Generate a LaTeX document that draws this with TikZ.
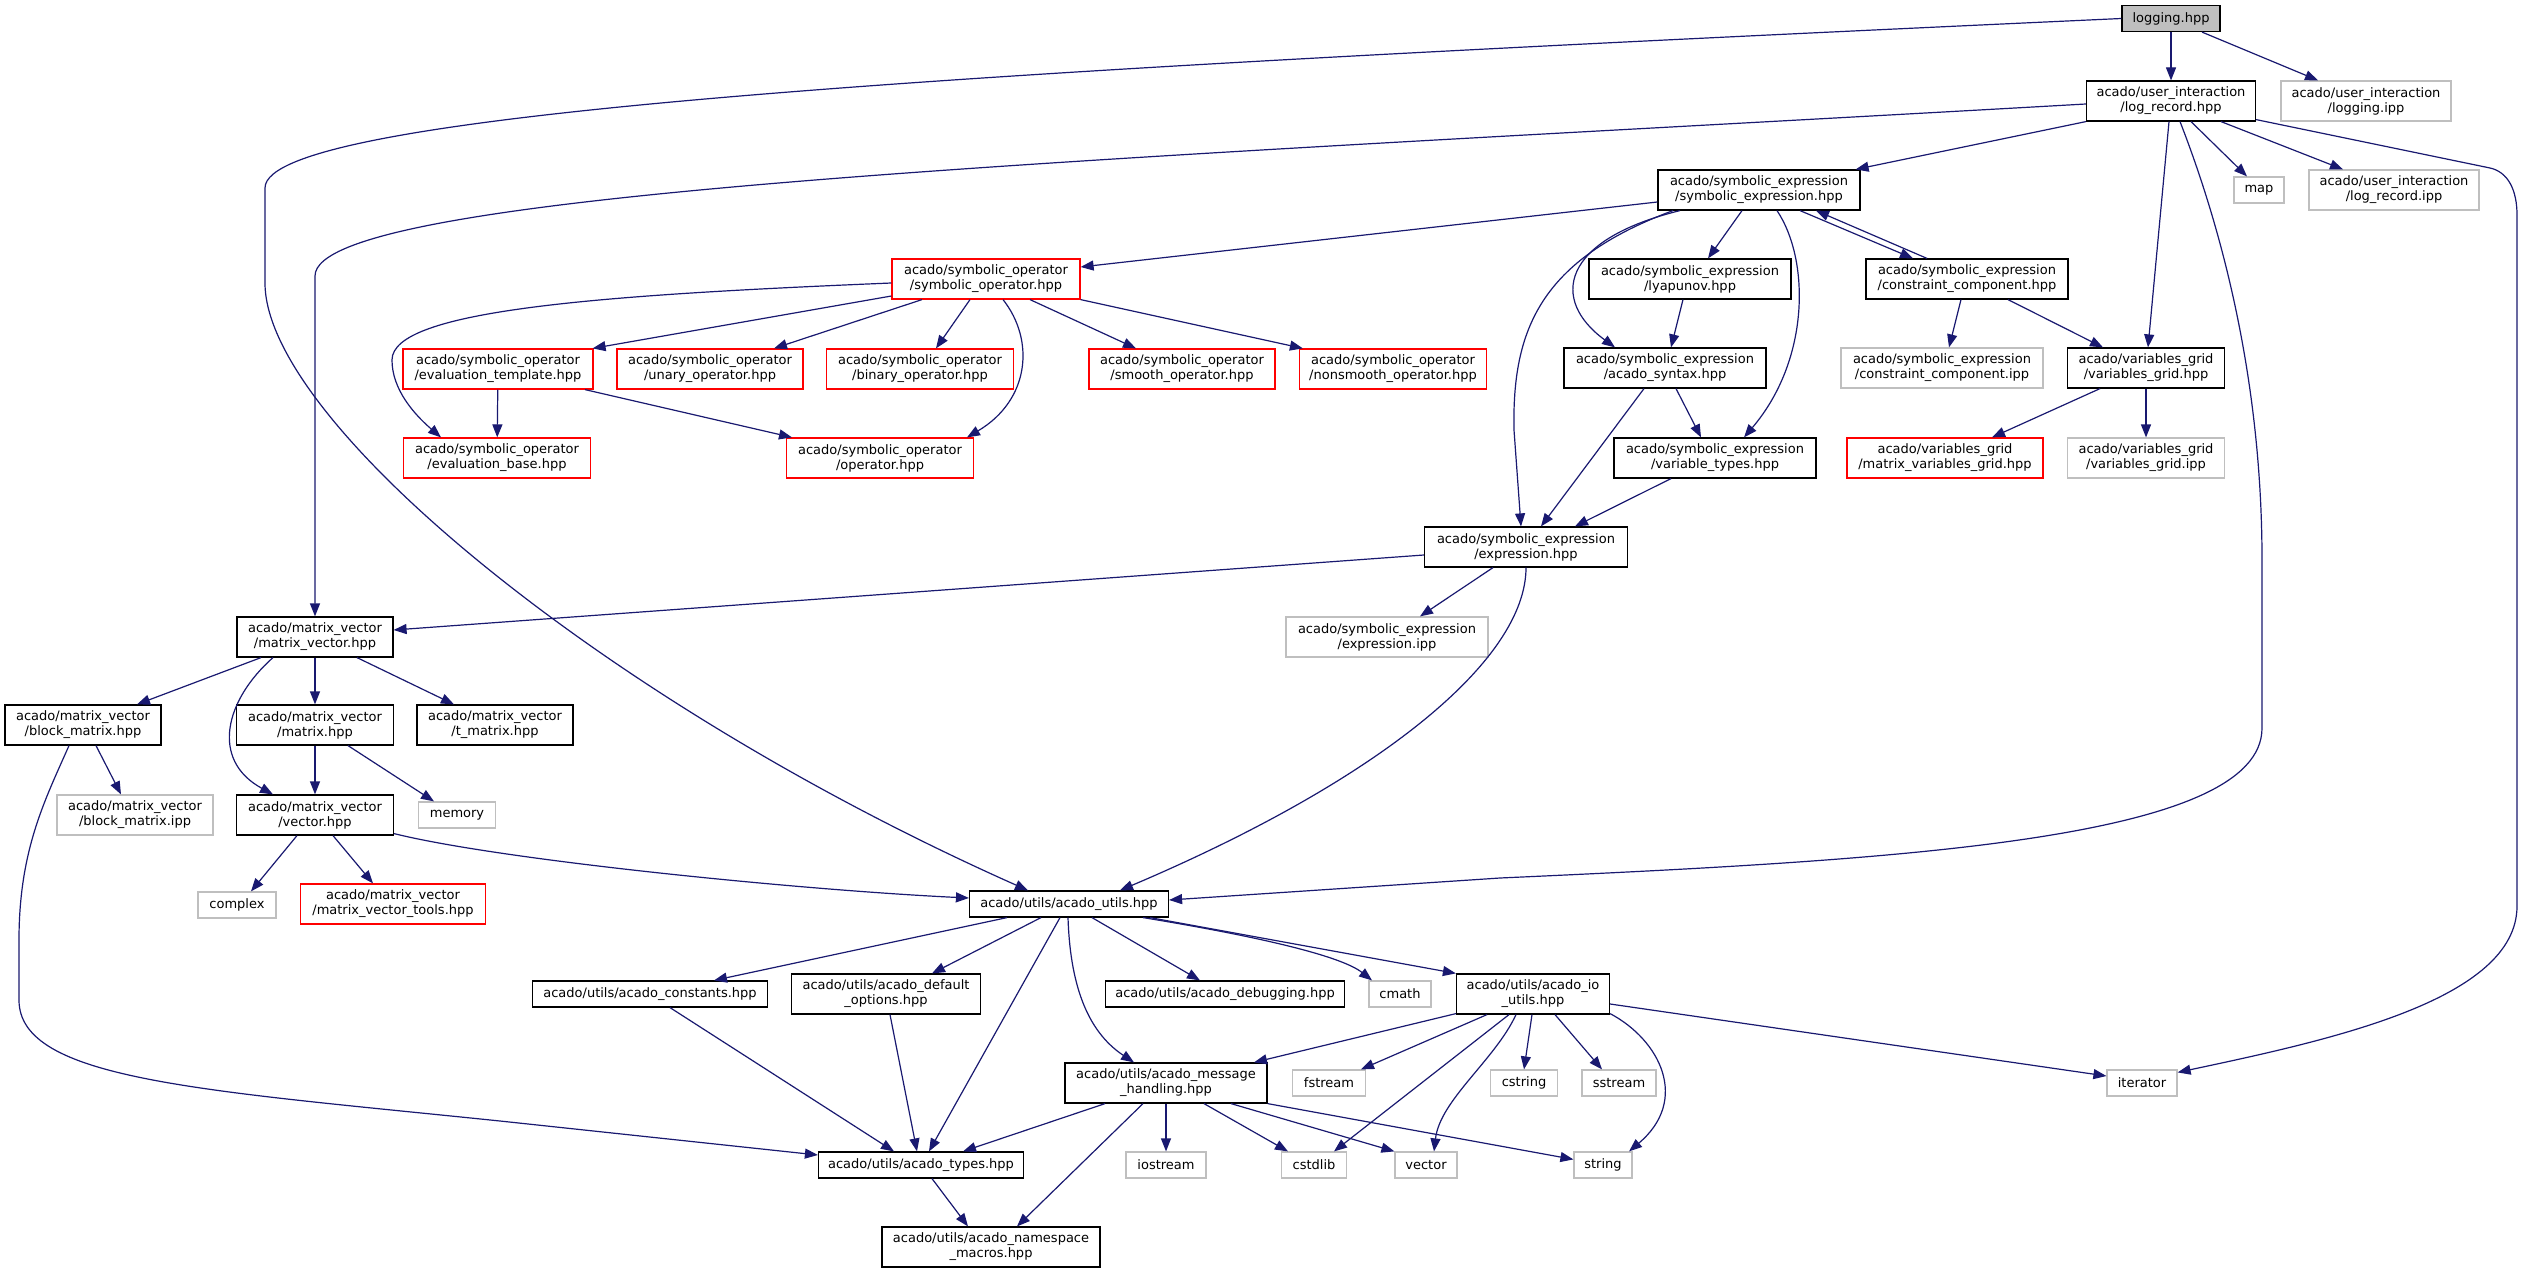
\documentclass[tikz,border=0pt]{standalone}
\usepackage{fontspec}
\setmainfont{DejaVu Sans}
\usepackage{xcolor}
\usepackage{tikz}
\usetikzlibrary{arrows.meta}
\definecolor{edgeblue}{RGB}{25,25,112}
\definecolor{nodegrey}{RGB}{191,191,191}
\tikzset{
  filebox/.style={draw, line width=1.2pt, fill=white, inner sep=0pt, minimum height=40pt,
    align=center, font=\fontsize{13pt}{15pt}\selectfont},
  hfile/.style={filebox, draw=black},
  sysfile/.style={filebox, draw=nodegrey},
  redfile/.style={filebox, draw=red},
  curfile/.style={filebox, draw=black, fill=nodegrey},
  oneline/.style={minimum height=26pt},
  incl/.style={draw=edgeblue, line width=1.2pt, -{Triangle[length=13pt,width=10pt]}}
}

\begin{document}
\begin{tikzpicture}[x=1pt, y=-1pt]
    \path[fill=white, use as bounding box] (0,0) rectangle (2525,1273);
    % files
    \node[curfile, oneline, minimum width=98pt] (logging) at (2171,18.5) {logging.hpp};
    \node[hfile, minimum width=169pt] (logrecord) at (2171,101) {acado/user\_interaction\\/log\_record.hpp};
    \node[sysfile, minimum width=170pt] (loggingipp) at (2366,101) {acado/user\_interaction\\/logging.ipp};
    \node[hfile, minimum width=202pt] (symexpr) at (1759,190) {acado/symbolic\_expression\\/symbolic\_expression.hpp};
    \node[sysfile, oneline, minimum width=50pt] (map) at (2259,190) {map};
    \node[sysfile, minimum width=170pt] (logrecordipp) at (2394,190) {acado/user\_interaction\\/log\_record.ipp};
    \node[redfile, minimum width=188pt] (symop) at (986,279) {acado/symbolic\_operator\\/symbolic\_operator.hpp};
    \node[hfile, minimum width=202pt] (lyapunov) at (1690,279) {acado/symbolic\_expression\\/lyapunov.hpp};
    \node[hfile, minimum width=202pt] (constrcomp) at (1967,279) {acado/symbolic\_expression\\/constraint\_component.hpp};
    \node[redfile, minimum width=190pt] (evaltempl) at (498,369) {acado/symbolic\_operator\\/evaluation\_template.hpp};
    \node[redfile, minimum width=186pt] (unary) at (710,369) {acado/symbolic\_operator\\/unary\_operator.hpp};
    \node[redfile, minimum width=187pt] (binary) at (920,369) {acado/symbolic\_operator\\/binary\_operator.hpp};
    \node[redfile, minimum width=186pt] (smooth) at (1182,369) {acado/symbolic\_operator\\/smooth\_operator.hpp};
    \node[redfile, minimum width=187pt] (nonsmooth) at (1393,369) {acado/symbolic\_operator\\/nonsmooth\_operator.hpp};
    \node[hfile, minimum width=202pt] (syntax) at (1665,368) {acado/symbolic\_expression\\/acado\_syntax.hpp};
    \node[sysfile, minimum width=202pt] (constrcompipp) at (1942,368) {acado/symbolic\_expression\\/constraint\_component.ipp};
    \node[hfile, minimum width=157pt] (varsgrid) at (2146,368) {acado/variables\_grid\\/variables\_grid.hpp};
    \node[redfile, minimum width=187pt] (evalbase) at (497,458) {acado/symbolic\_operator\\/evaluation\_base.hpp};
    \node[redfile, minimum width=187pt] (operator) at (880,458) {acado/symbolic\_operator\\/operator.hpp};
    \node[hfile, minimum width=202pt] (vartypes) at (1715,458) {acado/symbolic\_expression\\/variable\_types.hpp};
    \node[redfile, minimum width=196pt] (matvarsgrid) at (1945,458) {acado/variables\_grid\\/matrix\_variables\_grid.hpp};
    \node[sysfile, minimum width=157pt] (varsgridipp) at (2146,458) {acado/variables\_grid\\/variables\_grid.ipp};
    \node[hfile, minimum width=203pt] (expression) at (1526,547) {acado/symbolic\_expression\\/expression.hpp};
    \node[hfile, minimum width=156pt] (matvec) at (315,637) {acado/matrix\_vector\\/matrix\_vector.hpp};
    \node[sysfile, minimum width=202pt] (expressionipp) at (1387,637) {acado/symbolic\_expression\\/expression.ipp};
    \node[hfile, minimum width=156pt] (blockmatrix) at (83,725) {acado/matrix\_vector\\/block\_matrix.hpp};
    \node[hfile, minimum width=157pt] (matrix) at (315,725) {acado/matrix\_vector\\/matrix.hpp};
    \node[hfile, minimum width=156pt] (tmatrix) at (495,725) {acado/matrix\_vector\\/t\_matrix.hpp};
    \node[sysfile, minimum width=156pt] (blockmatrixipp) at (135,815) {acado/matrix\_vector\\/block\_matrix.ipp};
    \node[hfile, minimum width=157pt] (vector) at (315,815) {acado/matrix\_vector\\/vector.hpp};
    \node[sysfile, oneline, minimum width=77pt] (memory) at (457,815) {memory};
    \node[sysfile, oneline, minimum width=78pt] (complex) at (237,905) {complex};
    \node[redfile, minimum width=185pt] (mvtools) at (393,904) {acado/matrix\_vector\\/matrix\_vector\_tools.hpp};
    \node[hfile, oneline, minimum width=199pt] (acadoutils) at (1069,904) {acado/utils/acado\_utils.hpp};
    \node[hfile, oneline, minimum width=235pt] (constants) at (650,994) {acado/utils/acado\_constants.hpp};
    \node[hfile, minimum width=189pt] (defaultopts) at (886,994) {acado/utils/acado\_default\\\_options.hpp};
    \node[hfile, oneline, minimum width=239pt] (debugging) at (1225,994) {acado/utils/acado\_debugging.hpp};
    \node[sysfile, oneline, minimum width=62pt] (cmath) at (1400,994) {cmath};
    \node[hfile, minimum width=153pt] (ioutils) at (1533,994) {acado/utils/acado\_io\\\_utils.hpp};
    \node[hfile, minimum width=202pt] (msghandling) at (1166,1083) {acado/utils/acado\_message\\\_handling.hpp};
    \node[sysfile, oneline, minimum width=73pt] (fstream) at (1329,1083) {fstream};
    \node[sysfile, oneline, minimum width=67pt] (cstring) at (1524,1083) {cstring};
    \node[sysfile, oneline, minimum width=74pt] (sstream) at (1619,1083) {sstream};
    \node[sysfile, oneline, minimum width=70pt] (iterator) at (2142,1083) {iterator};
    \node[hfile, oneline, minimum width=205pt] (types) at (921,1165) {acado/utils/acado\_types.hpp};
    \node[sysfile, oneline, minimum width=80pt] (iostream) at (1166,1165) {iostream};
    \node[sysfile, oneline, minimum width=65pt] (cstdlib) at (1314,1165) {cstdlib};
    \node[sysfile, oneline, minimum width=62pt] (stdvector) at (1426,1165) {vector};
    \node[sysfile, oneline, minimum width=58pt] (string) at (1603,1165) {string};
    \node[hfile, minimum width=218pt] (nsmacros) at (991,1247) {acado/utils/acado\_namespace\\\_macros.hpp};
    % logging.hpp
    \draw[incl] (logging) -- (logrecord);
    \draw[incl] ([xshift=31pt]logging.south) -- ([xshift=-48pt]loggingipp.north);
    \draw[incl] (logging.west) .. controls (1000,70) and (265,110) .. (265,188) -- (265,283) .. controls (265,420) and (600,700) .. ([xshift=-41pt]acadoutils.north);
    % log_record.hpp
    \draw[incl] ([yshift=-3pt]logrecord.west) .. controls (1100,160) and (315,190) .. (315,276) -- (matvec.north);
    \draw[incl] (logrecord.south west) -- ([xshift=-5pt]symexpr.north east);
    \draw[incl] ([xshift=-2pt]logrecord.south) -- ([xshift=2pt]varsgrid.north);
    \draw[incl] ([xshift=9pt]logrecord.south) .. controls (2230,250) and (2262,400) .. (2262,560) -- (2262,728) .. controls (2262,840) and (1900,860) .. (1500,878) -- ([yshift=4pt]acadoutils.east);
    \draw[incl] ([xshift=20pt]logrecord.south) -- ([xshift=-12pt]map.north);
    \draw[incl] ([xshift=50pt]logrecord.south) -- ([xshift=-51pt]logrecordipp.north);
    \draw[incl] ([yshift=2pt]logrecord.south east) -- (2490,168) .. controls (2508,172) and (2517,190) .. (2517,215) -- (2517,906) .. controls (2517,1000) and (2330,1040) .. ([yshift=-3pt]iterator.north east);
    % symbolic_expression.hpp
    \draw[incl] ([yshift=-12pt]symexpr.west) -- ([yshift=12pt]symop.east);
    \draw[incl] ([xshift=-17pt]symexpr.south) -- ([xshift=18pt]lyapunov.north);
    \draw[incl] ([xshift=41pt]symexpr.south) -- ([xshift=-54pt]constrcomp.north);
    \draw[incl] ([xshift=-40pt]constrcomp.north) -- ([xshift=57pt]symexpr.south);
    \draw[incl] ([xshift=-79pt]symexpr.south) .. controls (1560,240) and (1550,300) .. ([xshift=-50pt]syntax.north);
    \draw[incl] ([xshift=-86pt]symexpr.south) .. controls (1540,260) and (1512,330) .. (1514,430) -- ([xshift=-5pt]expression.north);
    \draw[incl] ([xshift=18pt]symexpr.south) .. controls (1810,260) and (1810,360) .. ([xshift=29pt]vartypes.north);
    \draw[incl] ([xshift=-7pt]lyapunov.south) -- ([xshift=6pt]syntax.north);
    \draw[incl] ([xshift=-6pt]constrcomp.south) -- ([xshift=7pt]constrcompipp.north);
    \draw[incl] ([xshift=41pt]constrcomp.south) -- ([xshift=-43pt]varsgrid.north);
    \draw[incl] ([xshift=11pt]syntax.south) -- ([xshift=-14pt]vartypes.north);
    \draw[incl] ([xshift=-21pt]syntax.south) -- ([xshift=15pt]expression.north);
    \draw[incl] ([xshift=-44pt]vartypes.south) -- ([xshift=49pt]expression.north);
    \draw[incl] ([xshift=-46pt]varsgrid.south) -- ([xshift=47pt]matvarsgrid.north);
    \draw[incl] (varsgrid) -- (varsgridipp);
    % symbolic_operator.hpp
    \draw[incl] ([yshift=-17pt]symop.west) -- ([xshift=-1pt]evaltempl.north east);
    \draw[incl] ([xshift=-64pt]symop.south) -- ([xshift=64pt]unary.north);
    \draw[incl] ([xshift=-16pt]symop.south) -- ([xshift=16pt]binary.north);
    \draw[incl] ([xshift=17pt]symop.south) .. controls (1035,340) and (1030,400) .. ([xshift=87pt]operator.north);
    \draw[incl] ([xshift=44pt]symop.south) -- ([xshift=-46pt]smooth.north);
    \draw[incl] (symop.south east) -- ([xshift=4pt]nonsmooth.north west);
    \draw[incl] ([yshift=-4pt]symop.west) .. controls (600,295) and (392,310) .. (392,360) .. controls (392,390) and (415,415) .. ([xshift=-56pt]evalbase.north);
    \draw[incl] (evaltempl) -- (evalbase);
    \draw[incl] ([xshift=87pt]evaltempl.south) -- ([xshift=-88pt]operator.north);
    % expression.hpp
    \draw[incl] ([yshift=-8pt]expression.west) -- ([yshift=7pt]matvec.east);
    \draw[incl] ([xshift=-33pt]expression.south) -- ([xshift=33pt]expressionipp.north);
    \draw[incl] (expression.south) .. controls (1526,660) and (1380,780) .. ([xshift=51pt]acadoutils.north);
    % matrix_vector
    \draw[incl] ([xshift=-54pt]matvec.south) -- ([xshift=54pt]blockmatrix.north);
    \draw[incl] ([xshift=-42pt]matvec.south) .. controls (225,700) and (210,760) .. ([xshift=-42pt]vector.north);
    \draw[incl] (matvec) -- (matrix);
    \draw[incl] ([xshift=42pt]matvec.south) -- ([xshift=-41pt]tmatrix.north);
    \draw[incl] ([xshift=13pt]blockmatrix.south) -- ([xshift=-14pt]blockmatrixipp.north);
    \draw[incl] ([xshift=-14pt]blockmatrix.south) .. controls (45,800) and (19,850) .. (19,940) -- (19,1000) .. controls (19,1080) and (200,1090) .. (500,1121) -- ([yshift=10pt]types.west);
    \draw[incl] (matrix) -- (vector);
    \draw[incl] ([xshift=33pt]matrix.south) -- ([xshift=-23pt]memory.north);
    \draw[incl] ([xshift=-18pt]vector.south) -- ([xshift=14pt]complex.north);
    \draw[incl] ([xshift=18pt]vector.south) -- ([xshift=-20pt]mvtools.north);
    \draw[incl] ([yshift=2pt]vector.south east) .. controls (500,860) and (800,890) .. ([yshift=6pt]acadoutils.west);
    % acado_utils.hpp
    \draw[incl] ([xshift=-62pt]acadoutils.south) -- ([xshift=64pt]constants.north);
    \draw[incl] ([xshift=-28pt]acadoutils.south) -- ([xshift=46pt]defaultopts.north);
    \draw[incl] ([xshift=-9pt]acadoutils.south) -- ([xshift=8pt]types.north);
    \draw[incl] ([xshift=-1pt]acadoutils.south) .. controls (1070,980) and (1085,1030) .. ([xshift=-32pt]msghandling.north);
    \draw[incl] ([xshift=23pt]acadoutils.south) -- ([xshift=-25pt]debugging.north);
    \draw[incl] ([xshift=74pt]acadoutils.south) .. controls (1250,935) and (1340,955) .. ([xshift=-28pt]cmath.north);
    \draw[incl] ([xshift=81pt]acadoutils.south) -- (ioutils.north west);
    \draw[incl] ([xshift=20pt]constants.south) -- ([xshift=-27pt]types.north);
    \draw[incl] ([xshift=4pt]defaultopts.south) -- ([xshift=-4pt]types.north);
    % acado_message_handling.hpp
    \draw[incl] ([xshift=-61pt]msghandling.south) -- ([xshift=42pt]types.north);
    \draw[incl] ([xshift=-23pt]msghandling.south) -- ([xshift=26pt]nsmacros.north);
    \draw[incl] (msghandling) -- (iostream);
    \draw[incl] ([xshift=38pt]msghandling.south) -- ([xshift=-26pt]cstdlib.north);
    \draw[incl] ([xshift=65pt]msghandling.south) -- (stdvector.north west);
    \draw[incl] (msghandling.south east) -- ([yshift=-8pt]string.north west);
    % acado_io_utils.hpp
    \draw[incl] ([yshift=1pt]ioutils.south west) -- ([xshift=88pt]msghandling.north);
    \draw[incl] ([xshift=-46pt]ioutils.south) -- ([xshift=32pt]fstream.north);
    \draw[incl] ([xshift=-24pt]ioutils.south) -- ([xshift=20pt]cstdlib.north);
    \draw[incl] ([xshift=-17pt]ioutils.south) .. controls (1495,1060) and (1440,1100) .. ([xshift=8pt]stdvector.north);
    \draw[incl] ([xshift=-1pt]ioutils.south) -- (cstring.north);
    \draw[incl] ([xshift=22pt]ioutils.south) -- ([xshift=-17pt]sstream.north);
    \draw[incl] ([yshift=1pt]ioutils.south east) .. controls (1660,1040) and (1690,1100) .. ([xshift=26pt]string.north);
    \draw[incl] ([yshift=-10pt]ioutils.east) -- ([yshift=7pt]iterator.west);
    \draw[incl] ([xshift=11pt]types.south) -- ([xshift=-23pt]nsmacros.north);
\end{tikzpicture}
\end{document}
